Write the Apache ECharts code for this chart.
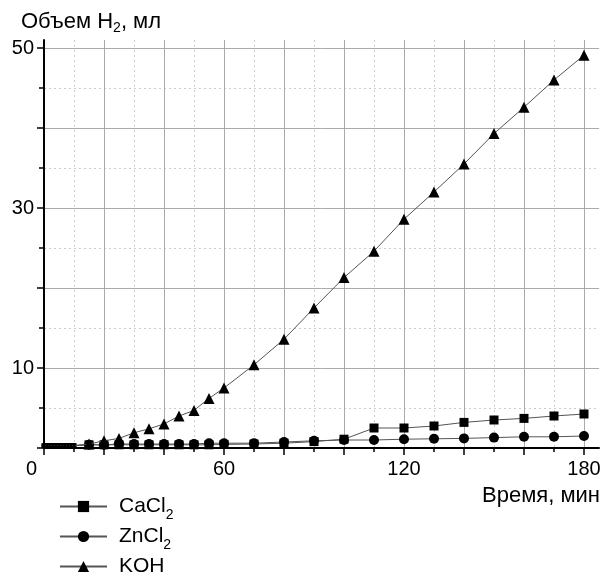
<!DOCTYPE html>
<html>
<head>
<meta charset="utf-8">
<script src="https://cdn.jsdelivr.net/npm/echarts@6/dist/echarts.min.js"></script>
<style>html,body{margin:0;padding:0;background:#fff}#c{width:608px;height:576px}</style>
</head>
<body>
<div id="c"></div>
<script>
const times = [0,1,2,3,4,5,6,7,8,9,10,15,20,25,30,35,40,45,50,55,60,70,80,90,100,110,120,130,140,150,160,170,180];
const cacl2 = [0.3,0.3,0.3,0.3,0.3,0.3,0.3,0.3,0.3,0.3,0.3,0.4,0.4,0.4,0.4,0.4,0.4,0.4,0.4,0.4,0.45,0.5,0.6,0.8,1.1,2.5,2.5,2.75,3.2,3.5,3.7,4.0,4.25];
const zncl2 = [0.3,0.3,0.3,0.3,0.3,0.3,0.3,0.3,0.3,0.3,0.3,0.4,0.4,0.5,0.5,0.5,0.5,0.5,0.5,0.6,0.6,0.6,0.75,0.9,1.0,1.0,1.1,1.15,1.2,1.3,1.4,1.4,1.5];
const koh   = [0.3,0.3,0.3,0.3,0.3,0.3,0.3,0.3,0.3,0.3,0.3,0.5,0.9,1.2,1.9,2.4,3.0,4.0,4.7,6.2,7.5,10.4,13.6,17.5,21.3,24.6,28.6,32.0,35.5,39.3,42.6,46.0,49.1];
const seriesNames = ['CaCl2','ZnCl2','KOH'];
const xMajorTicks = [0,20,40,60,80,100,120,140,160,180];
const xMinorTicks = [10,30,50,70,90,110,130,150,170];
const xLabels = [0,60,120,180];
const yMajorTicks = [0,10,20,30,40,50];
const yMinorTicks = [5,15,25,35,45];
const yLabels = [10,30,50];

const FONT = '"Liberation Sans", Arial, sans-serif';
const chart = echarts.init(document.getElementById('c'), null, {renderer:'canvas'});
const pairs = arr => times.map((t,i)=>[t, arr[i]]);
const symSize = big => (v => v[0] <= 10 ? 5 : big);
const lineStyle = {color:'#555', width:1};
const subRich = pad => ({
  sub:{fontSize:14, fontFamily:FONT, color:'#000', verticalAlign:'top', lineHeight:14, padding:[pad,0,0,0]}
});
const fmtName = n => n.replace(/2$/, '{sub|2}');

const option = {
  animation:false,
  backgroundColor:'#fff',
  title:[
    {text:'Объем H{sub|2}, мл', left:21, top:11, padding:0,
     textStyle:{fontSize:22, fontWeight:'normal', color:'#000', fontFamily:FONT, rich:subRich(10)}},
    {text:'Время, мин', right:8, top:485, padding:0,
     textStyle:{fontSize:22, fontWeight:'normal', color:'#000', fontFamily:FONT}}
  ],
  legend:{
    orient:'vertical', left:59, top:496, height:120, padding:0,
    itemWidth:47, itemHeight:14, itemGap:4,
    data:seriesNames,
    formatter: fmtName,
    textStyle:{fontSize:21, color:'#000', fontFamily:FONT, padding:[0,0,0,7], rich:subRich(12)}
  },
  grid:{left:44, right:9, top:40, bottom:128, containLabel:false},
  xAxis:[
    {type:'value', min:0, max:185, position:'bottom',
     axisLine:{show:true, onZero:false, lineStyle:{color:'#000', width:2}},
     axisTick:{show:true, length:7, customValues:xMajorTicks, lineStyle:{color:'#000', width:1.5}},
     axisLabel:{customValues:xLabels, margin:11, fontSize:20, color:'#000', fontFamily:FONT,
       formatter: v => v === 0 ? '{z|0}' : String(v),
       rich:{z:{fontSize:20, color:'#000', fontFamily:FONT, padding:[0,25,10,0]}}},
     splitLine:{show:true, lineStyle:{color:'#aaa', width:1, type:'solid'}}},
    {type:'value', min:0, max:185, position:'bottom',
     axisLine:{show:false},
     axisTick:{show:true, length:4, customValues:xMinorTicks, lineStyle:{color:'#000', width:1.5}},
     axisLabel:{show:false},
     splitLine:{show:true, lineStyle:{color:'#ccc', width:1, type:[2,3]}}}
  ],
  yAxis:[
    {type:'value', min:0, max:51, position:'left',
     axisLine:{show:true, onZero:false, lineStyle:{color:'#000', width:2}},
     axisTick:{show:true, length:7, customValues:yMajorTicks, lineStyle:{color:'#000', width:1.5}},
     axisLabel:{customValues:yLabels, margin:10, fontSize:20, color:'#000', fontFamily:FONT},
     splitLine:{show:true, lineStyle:{color:'#aaa', width:1, type:'solid'}}},
    {type:'value', min:0, max:51, position:'left', offset:0,
     axisLine:{show:false},
     axisTick:{show:true, length:5, customValues:yMinorTicks, lineStyle:{color:'#000', width:1.5}},
     axisLabel:{show:false},
     splitLine:{show:true, lineStyle:{color:'#ccc', width:1, type:[2,3]}}}
  ],
  series:[
    {name:seriesNames[0], type:'line', data:pairs(cacl2), symbol:'rect', symbolSize:symSize(9),
     itemStyle:{color:'#000'}, lineStyle:lineStyle, z:3},
    {name:seriesNames[1], type:'line', data:pairs(zncl2), symbol:'circle', symbolSize:symSize(10),
     itemStyle:{color:'#000'}, lineStyle:lineStyle, z:4},
    {name:seriesNames[2], type:'line', data:pairs(koh), symbol:'triangle', symbolSize:symSize(11),
     itemStyle:{color:'#000'}, lineStyle:lineStyle, z:5}
  ]
};
chart.setOption(option);
</script>
</body>
</html>
